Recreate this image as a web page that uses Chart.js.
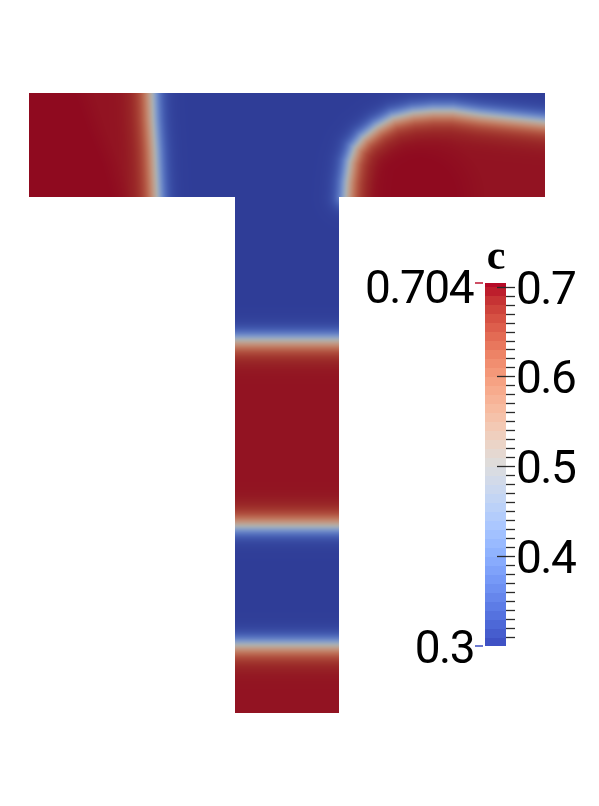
<!DOCTYPE html>
<html><head><meta charset="utf-8">
<script src="https://cdn.jsdelivr.net/npm/chart.js@4.4.1/dist/chart.umd.min.js"></script>
<style>html,body{margin:0;padding:0;background:#fff;overflow:hidden}#wrap{width:599px;height:806px}</style>
</head><body><div id="wrap"><canvas id="cv" width="599" height="806"></canvas></div>
<script>
// ---- data (domain units) ----
const barBox = [29, 93, 545, 197];
const stemBox = [235, 197, 339, 713];
// left interface (red side to the left)
const leftFrontY = [93, 120, 150, 197];
const leftFrontX = [152, 153, 155, 157];
// edge of the deeper red zone in the left part
const leftCoreY = [93, 130, 165, 197];
const leftCoreX = [84, 97, 112, 122];
// right blob interface (c = 0.5 contour)
const blobFrontX = [346, 347, 350, 355, 363, 377, 393, 413, 433, 453, 480, 507, 545, 560];
const blobFrontY = [197, 182, 162, 148, 138, 127, 118, 113, 111, 111, 115, 118, 122, 123];
const blobCoreX = [415], blobCoreY = [197], blobCoreR = [55];
// red bands in the stem
const stemRedStart = [340, 645];
const stemRedEnd = [526, 9999];
// plateau levels
const cBlue = 0.302, cRed = 0.697, cDeep = 0.701;
// colour bar
const cMin = 0.3, cMax = 0.704;
const tickValues = [0.7, 0.6, 0.5, 0.4];
const tickLabels = ['0.7', '0.6', '0.5', '0.4'];
const rangeValues = [0.704, 0.3];
const rangeLabels = ['0.704', '0.3'];
const barTitle = 'c';

// ---- style ----
const cbarBox = [485, 283, 506, 646];
const SHADE = 0.78, W_RED = 12.5, W_BLUE = 10;
const LUT = [[59,76,192],[68,90,204],[77,104,215],[87,117,225],[98,130,234],[108,142,241],[119,154,247],[130,165,251],[141,176,254],[152,185,255],[163,194,255],[174,201,253],[184,208,249],[194,213,244],[204,217,238],[213,219,230],[221,221,221],[229,216,209],[236,211,197],[241,204,185],[245,196,173],[247,187,160],[247,177,148],[247,166,135],[244,154,123],[241,141,111],[236,127,99],[229,112,88],[222,96,77],[213,80,66],[203,62,56],[192,40,47],[180,4,38]];
function lut(c){
  let t = (c - cMin) / (cMax - cMin); t = Math.max(0, Math.min(1, t));
  const f = t * (LUT.length - 1); const i = Math.min(LUT.length - 2, Math.floor(f)); const u = f - i;
  return [0,1,2].map(k => LUT[i][k] + (LUT[i+1][k] - LUT[i][k]) * u);
}
function interp(ys, xs, y){
  if (y <= ys[0]) return xs[0];
  for (let i = 1; i < ys.length; i++) if (y <= ys[i]) { const u = (y - ys[i-1])/(ys[i]-ys[i-1]); return xs[i-1] + (xs[i]-xs[i-1])*u; }
  return xs[xs.length-1];
}
const blobPoly = blobFrontX.map((x,i)=>[x, blobFrontY[i]]).concat([[600,123],[600,200],[346,200]]);
function inPoly(x, y, poly){
  let ins = false;
  for (let i = 0, j = poly.length-1; i < poly.length; j = i++){
    const xi=poly[i][0], yi=poly[i][1], xj=poly[j][0], yj=poly[j][1];
    if (((yi > y) !== (yj > y)) && (x < (xj-xi)*(y-yi)/(yj-yi)+xi)) ins = !ins;
  }
  return ins;
}
function blobDist(x, y){
  let m = 1e9;
  for (let i = 1; i < blobFrontX.length; i++){
    const ax=blobFrontX[i-1], ay=blobFrontY[i-1], bx=blobFrontX[i], by=blobFrontY[i];
    const dx=bx-ax, dy=by-ay; let u=((x-ax)*dx+(y-ay)*dy)/(dx*dx+dy*dy); u=Math.max(0,Math.min(1,u));
    const ex=ax+u*dx-x, ey=ay+u*dy-y; const d=Math.sqrt(ex*ex+ey*ey); if (d<m) m=d;
  }
  return inPoly(x, y, blobPoly) ? m : -m;
}
function clamp01(v){ return Math.max(0, Math.min(1, v)); }
function fieldAt(X, Y){
  const inBar = X >= barBox[0] && X <= barBox[2] && Y >= barBox[1] && Y <= barBox[3];
  const inStem = X >= stemBox[0] && X <= stemBox[2] && Y >= stemBox[1] && Y <= stemBox[3];
  if (!inBar && !inStem) return null;
  let s = -1e9, core = 0;
  if (inBar){
    const dl = interp(leftFrontY, leftFrontX, Y) - X;
    const db = blobDist(X, Y);
    s = Math.max(dl, db);
    if (dl > 0) core = Math.max(core, clamp01((interp(leftCoreY, leftCoreX, Y) - X)/20 + 0.5));
    if (db > 0) for (let k=0;k<blobCoreX.length;k++){ const r=Math.hypot(X-blobCoreX[k], Y-blobCoreY[k]); core=Math.max(core, clamp01((blobCoreR[k]-r)/30+0.5)); }
  } else {
    for (let k=0;k<stemRedStart.length;k++) s = Math.max(s, Math.min(Y - stemRedStart[k], stemRedEnd[k] - Y));
    if (Y < 240) s = Math.max(s, blobDist(X, Y));
  }
  const cr = cRed + (cDeep - cRed) * core;
  const w = s > 0 ? W_RED : W_BLUE;
  return cBlue + (cr - cBlue) * 0.5 * (1 + Math.tanh(s / w));
}

const fieldPlugin = {
  id: 'field',
  afterDraw(chart){
    const ctx = chart.ctx, xs = chart.scales.x, ys = chart.scales.y;
    const W = chart.width, H = chart.height;
    const img = ctx.createImageData(W, H);
    const p0x = Math.floor(xs.getPixelForValue(barBox[0])), p1x = Math.ceil(xs.getPixelForValue(barBox[2]));
    const p0y = Math.floor(ys.getPixelForValue(barBox[1])), p1y = Math.ceil(ys.getPixelForValue(stemBox[3]));
    for (let py = p0y; py < p1y; py++){
      const Y = ys.getValueForPixel(py + 0.5);
      for (let px = p0x; px < p1x; px++){
        const X = xs.getValueForPixel(px + 0.5);
        const c = fieldAt(X, Y);
        if (c === null) continue;
        const col = lut(c); const o = (py*W + px)*4;
        img.data[o] = col[0]*SHADE; img.data[o+1] = col[1]*SHADE; img.data[o+2] = col[2]*SHADE; img.data[o+3] = 255;
      }
    }
    ctx.putImageData(img, 0, 0);

    // colour bar
    const cy = v => ys.getPixelForValue(cbarBox[3] - (v - cMin)/(cMax - cMin)*(cbarBox[3]-cbarBox[1]));
    const bx0 = xs.getPixelForValue(cbarBox[0]), bx1 = xs.getPixelForValue(cbarBox[2]);
    for (let v = cMin; v < cMax - 1e-9; v += 0.01){
      const v1 = Math.min(cMax, v + 0.01);
      const col = lut((v + v1)/2);
      ctx.fillStyle = `rgb(${col.map(Math.round).join(',')})`;
      const yTop = Math.floor(cy(v1)), yBot = Math.ceil(cy(v));
      ctx.fillRect(bx0, yTop, bx1 - bx0, yBot - yTop);
    }
    // ticks
    ctx.strokeStyle = '#2b2b2b'; ctx.lineWidth = 1.3;
    for (let k = 31; k <= 70; k++){
      const v = k/100; const y = Math.round(cy(v)) + 0.5;
      const major = tickValues.some(t => Math.abs(t - v) < 1e-6);
      ctx.beginPath(); ctx.moveTo(xs.getPixelForValue(major ? 497 : 506), y); ctx.lineTo(xs.getPixelForValue(515), y); ctx.stroke();
    }
    // range markers
    ctx.lineWidth = 1.5;
    ctx.strokeStyle = 'rgb(190,20,50)';
    ctx.beginPath(); ctx.moveTo(xs.getPixelForValue(475), cy(rangeValues[0])); ctx.lineTo(xs.getPixelForValue(483), cy(rangeValues[0])); ctx.stroke();
    ctx.strokeStyle = 'rgb(59,76,192)';
    ctx.beginPath(); ctx.moveTo(xs.getPixelForValue(475), cy(rangeValues[1])); ctx.lineTo(xs.getPixelForValue(483), cy(rangeValues[1])); ctx.stroke();

    // labels
    ctx.fillStyle = '#000';
    ctx.font = '400 46px Roboto';
    try { ctx.letterSpacing = '-1.5px'; } catch(e) {}
    ctx.textBaseline = 'alphabetic';
    ctx.textAlign = 'left';
    tickValues.forEach((v,i) => ctx.fillText(tickLabels[i], xs.getPixelForValue(516), cy(v) + 17));
    ctx.textAlign = 'right';
    ctx.fillText(rangeLabels[0], xs.getPixelForValue(473), cy(rangeValues[0]) + 20);
    ctx.fillText(rangeLabels[1], xs.getPixelForValue(474), cy(rangeValues[1]) + 17);
    try { ctx.letterSpacing = '0px'; } catch(e) {}
    ctx.font = 'bold 42px "Liberation Serif"';
    ctx.textAlign = 'center';
    ctx.fillText(barTitle, xs.getPixelForValue(496), ys.getPixelForValue(269));
  }
};

new Chart(document.getElementById('cv'), {
  type: 'scatter',
  data: { datasets: [{ data: [] }] },
  options: {
    responsive: false, animation: false, devicePixelRatio: 1,
    layout: { padding: 0 },
    plugins: { legend: { display: false }, tooltip: { enabled: false } },
    scales: {
      x: { type: 'linear', min: 0, max: 599, display: false },
      y: { type: 'linear', min: 0, max: 806, reverse: true, display: false }
    }
  },
  plugins: [fieldPlugin]
});
</script></body></html>
